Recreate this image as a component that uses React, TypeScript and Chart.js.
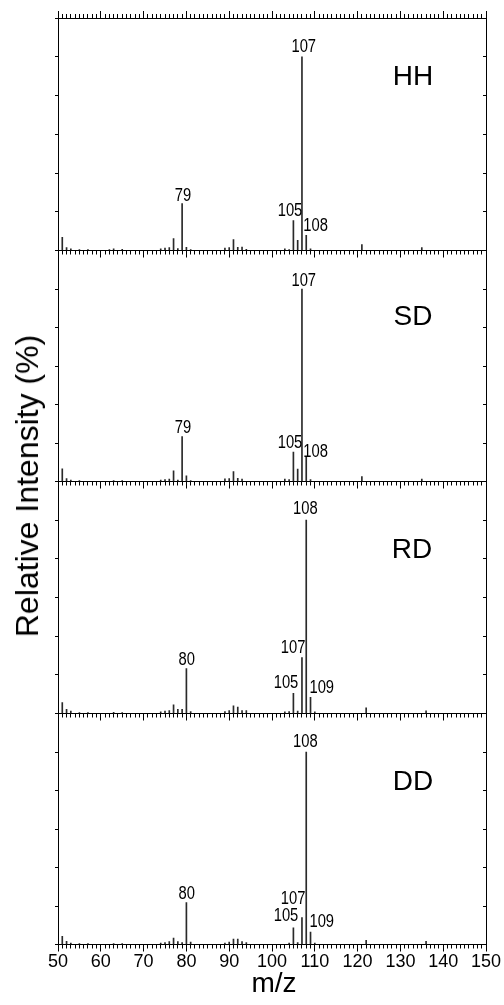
import React, { useEffect, useRef } from 'react';
import { Chart, registerables } from 'chart.js';
Chart.register(...registerables);

// ---------- data ----------
const PANEL_NAMES = ['HH', 'SD', 'RD', 'DD'];

const HH_MZ = [51, 52, 53, 55, 57, 62, 63, 65, 74, 75, 76, 77, 78, 79, 80, 81, 89, 90, 91, 92, 93, 94, 103, 104, 105, 106, 107, 108, 109, 121, 135];
const HH_INT = [6.8, 1.5, 0.8, 0.5, 0.5, 0.5, 0.8, 0.6, 0.8, 1.2, 1.5, 6.2, 1.0, 24.2, 1.7, 0.5, 1.2, 1.5, 5.6, 1.7, 1.8, 0.6, 0.8, 0.5, 15.4, 5.2, 100, 7.8, 0.8, 3.0, 1.5];

const SD_MZ = [51, 52, 53, 55, 63, 65, 74, 75, 76, 77, 78, 79, 80, 81, 89, 90, 91, 92, 93, 103, 104, 105, 106, 107, 108, 109, 121, 135];
const SD_INT = [6.6, 1.5, 0.8, 0.5, 0.5, 0.5, 0.8, 1.0, 1.2, 5.6, 0.8, 23.4, 3.0, 0.5, 1.4, 1.5, 5.2, 1.7, 1.2, 1.2, 1.0, 15.3, 6.5, 100, 12.7, 1.0, 2.6, 1.2];

const RD_MZ = [51, 52, 53, 55, 57, 63, 65, 74, 75, 76, 77, 78, 79, 80, 81, 89, 90, 91, 92, 93, 94, 103, 104, 105, 106, 107, 108, 109, 110, 122, 136];
const RD_INT = [5.7, 2.2, 1.2, 0.5, 0.5, 0.6, 0.5, 0.8, 1.2, 1.5, 4.5, 2.2, 2.2, 23.2, 1.0, 1.0, 1.5, 4.0, 3.3, 1.5, 1.5, 0.8, 1.0, 10.4, 1.2, 28.9, 100, 8.3, 0.8, 2.9, 1.4];

const DD_MZ = [51, 52, 53, 55, 57, 63, 65, 74, 75, 76, 77, 78, 79, 80, 81, 89, 90, 91, 92, 93, 94, 104, 105, 106, 107, 108, 109, 110, 122, 136];
const DD_INT = [4.3, 1.7, 0.8, 0.5, 0.5, 0.5, 0.5, 0.8, 1.0, 1.5, 3.4, 1.5, 1.0, 21.8, 1.2, 0.8, 1.2, 2.8, 2.8, 1.5, 1.0, 0.8, 8.6, 1.0, 14.0, 100, 6.4, 0.8, 2.2, 1.7];

const HH_LABELS = [107, 79, 105, 108];
const SD_LABELS = [107, 79, 105, 108];
const RD_LABELS = [108, 80, 107, 105, 109];
const DD_LABELS = [108, 80, 107, 105, 109];

const X_TICKS = [50, 60, 70, 80, 90, 100, 110, 120, 130, 140, 150];
const Y_TICKS = [0, 20, 40, 60, 80, 100, 120];

const X_TITLE = 'm/z';
const Y_TITLE = 'Relative Intensity (%)';

// ---------- layout / style ----------
const W = 504;
const H = 1005;
const PLOT_L = 58;
const PLOT_R = 486;
const PANEL_TOPS = [18, 250.5, 481.5, 713.5];
const PANEL_BOTTOMS = [250.5, 481.5, 713.5, 944.5];
const LABEL_BAND = 30; // height reserved for bottom tick labels (last panel)
const FONT = "'Liberation Sans', Arial, Helvetica, sans-serif";
const NARROW = 0.82;

// label placement (style): align, dx (px), gap above peak top (px)
const HH_PLACE = [['center', 1.8, 4.6], ['center', 0.9, 2.3], ['right', 8.9, 4.3], ['left', -3, 4]];
const SD_PLACE = [['center', 1.8, 3.5], ['center', 0.9, 3.4], ['right', 8.9, 4], ['left', -3, 0]];
const RD_PLACE = [['center', -0.9, 6], ['center', 0.3, 3.3], ['right', 3.5, 5], ['right', 4.9, 5.7], ['left', -1.1, 4.7]];
const DD_PLACE = [['center', -0.9, 5], ['center', 0.3, 3.3], ['right', 3.5, 14], ['right', 4.9, 6.7], ['left', -1.1, 5]];

const NAME_POS = [[413, 75.5], [413, 316], [412, 549], [413, 781]];

const PANELS = [
  { mz: HH_MZ, int: HH_INT, labels: HH_LABELS, place: HH_PLACE },
  { mz: SD_MZ, int: SD_INT, labels: SD_LABELS, place: SD_PLACE },
  { mz: RD_MZ, int: RD_INT, labels: RD_LABELS, place: RD_PLACE },
  { mz: DD_MZ, int: DD_INT, labels: DD_LABELS, place: DD_PLACE },
];

const fixH = (h: number) => (a: any) => { a.height = h; };
const zeroW = (a: any) => { a.width = 0; };

function xAxis(position: string, step: number | null, tickLen: number, border: boolean, showLabels: boolean) {
  return {
    type: 'linear',
    position,
    min: 50,
    max: 150,
    offset: false,
    afterBuildTicks: step === null ? (a: any) => { a.ticks = X_TICKS.map((v) => ({ value: v })); } : undefined,
    ticks: {
      stepSize: step === null ? 10 : step,
      maxTicksLimit: 1000,
      autoSkip: false,
      maxRotation: 0,
      minRotation: 0,
      display: showLabels,
      padding: 0,
      color: '#000',
      font: { family: FONT, size: 18 },
    },
    grid: { offset: false, drawOnChartArea: false, drawTicks: true, tickLength: tickLen, color: '#000', lineWidth: 1 },
    border: { display: border, color: '#000', width: 1 },
    afterFit: fixH(showLabels ? LABEL_BAND : 0),
  };
}

function yAxis(position: string, tickLen: number) {
  return {
    type: 'linear',
    position,
    min: 0,
    max: 120,
    offset: false,
    afterBuildTicks: (a: any) => { a.ticks = Y_TICKS.map((v) => ({ value: v })); },
    ticks: { display: false, stepSize: 20 },
    grid: { offset: false, drawOnChartArea: false, drawTicks: true, tickLength: tickLen, color: '#000', lineWidth: 1 },
    border: { display: true, color: '#000', width: 1 },
    afterFit: zeroW,
  };
}

function labelPlugin(p: any) {
  return {
    id: 'peakLabels',
    afterDatasetsDraw(chart: any) {
      const { ctx } = chart;
      const xs = chart.scales.x;
      const ys = chart.scales.y;
      ctx.save();
      ctx.font = `18px ${FONT}`;
      ctx.fillStyle = '#000';
      ctx.textBaseline = 'alphabetic';
      ctx.textAlign = 'left';
      p.labels.forEach((mz: number, k: number) => {
        const i = p.mz.indexOf(mz);
        const [align, dx, gap] = p.place[k];
        const text = String(mz);
        const px = xs.getPixelForValue(mz);
        const py = ys.getPixelForValue(p.int[i]);
        const w = ctx.measureText(text).width * NARROW;
        let left = align === 'center' ? px - w / 2 : align === 'right' ? px - w : px;
        left += dx;
        ctx.save();
        ctx.translate(left, py - gap);
        ctx.scale(NARROW, 1);
        ctx.fillText(text, 0, 0);
        ctx.restore();
      });
      ctx.restore();
    },
  };
}

export default function App() {
  const refs = [useRef<HTMLCanvasElement>(null), useRef<HTMLCanvasElement>(null), useRef<HTMLCanvasElement>(null), useRef<HTMLCanvasElement>(null)];

  useEffect(() => {
    const charts: Chart[] = [];
    PANELS.forEach((p, idx) => {
      const canvas = refs[idx].current;
      if (!canvas) return;
      const last = idx === PANELS.length - 1;
      const scales: any = {
        x: xAxis('bottom', 1, 4, true, false),
        xM: xAxis('bottom', null, 7, false, last),
        y: yAxis('left', 3),
        yR: yAxis('right', -3),
      };
      if (idx === 0) {
        scales.xT = xAxis('top', 1, 4, true, false);
        scales.xTM = xAxis('top', null, 7, false, false);
      }
      const chart = new Chart(canvas, {
        type: 'bar',
        data: {
          datasets: [
            {
              data: p.mz.map((m, i) => ({ x: m, y: p.int[i] })),
              backgroundColor: '#2a2a2a',
              borderWidth: 0,
              barThickness: 1,
              xAxisID: 'x',
              yAxisID: 'y',
            } as any,
          ],
        },
        options: {
          responsive: false,
          animation: false,
          layout: {
            padding: {
              left: PLOT_L,
              right: W - PLOT_R,
              top: PANEL_TOPS[idx],
              bottom: H - PANEL_BOTTOMS[idx] - (last ? LABEL_BAND : 0),
            },
          },
          plugins: { legend: { display: false }, tooltip: { enabled: false } },
          scales,
        } as any,
        plugins: [labelPlugin(p)],
      });
      charts.push(chart);
    });
    return () => charts.forEach((c) => c.destroy());
  }, []);

  return (
    <div style={{ position: 'absolute', left: 0, top: 0, width: W, height: H, background: '#fff', overflow: 'hidden' }}>
      {refs.map((r, i) => (
        <canvas key={i} ref={r} width={W} height={H} style={{ position: 'absolute', left: 0, top: 0, width: W, height: H }} />
      ))}
      {PANEL_NAMES.map((n, i) => (
        <div
          key={n}
          style={{
            position: 'absolute',
            left: NAME_POS[i][0],
            top: NAME_POS[i][1],
            transform: 'translate(-50%, -50%)',
            font: `28px ${FONT}`,
            lineHeight: '28px',
            color: '#000',
            whiteSpace: 'nowrap',
          }}
        >
          {n}
        </div>
      ))}
      <div
        style={{
          position: 'absolute',
          left: 26.5,
          top: 486,
          transform: 'translate(-50%, -50%) rotate(-90deg)',
          font: `32px ${FONT}`,
          lineHeight: '32px',
          color: '#000',
          whiteSpace: 'nowrap',
        }}
      >
        {Y_TITLE}
      </div>
      <div
        style={{
          position: 'absolute',
          left: 274,
          top: 969,
          transform: 'translateX(-50%)',
          font: `28px ${FONT}`,
          lineHeight: '28px',
          color: '#000',
          whiteSpace: 'nowrap',
        }}
      >
        {X_TITLE}
      </div>
    </div>
  );
}
